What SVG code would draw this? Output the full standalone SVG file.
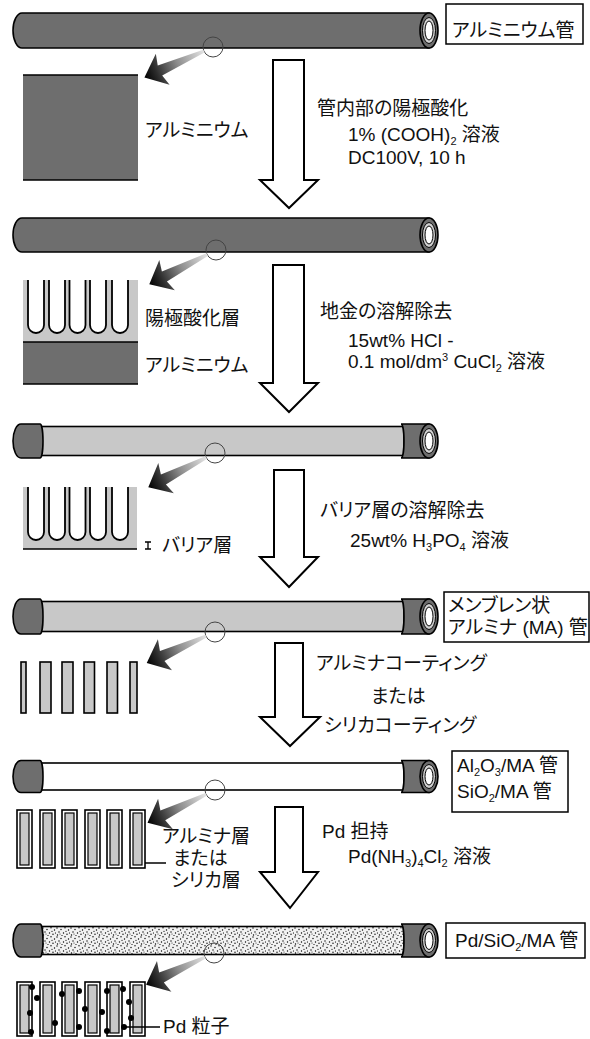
<svg xmlns="http://www.w3.org/2000/svg" width="590" height="1039" viewBox="0 0 590 1039">
  <style>
    .t { font-family: "Liberation Sans", "Noto Sans CJK JP", sans-serif; font-size: 19px; fill: #111; font-feature-settings: "palt"; }
    .s { font-size: 11px; }
    .dark { fill: #6e6e6e; stroke: #000; stroke-width: 1.6; }
    .light { fill: #c8c8c8; stroke: #000; stroke-width: 1.6; }
    .white { fill: #fff; stroke: #000; stroke-width: 1.6; }
    .box { fill: #fff; stroke: #000; stroke-width: 1.5; }
    .lens { fill: none; stroke: #444; stroke-width: 1; }
    .big { fill: #fff; stroke: #000; stroke-width: 2; stroke-linejoin: miter; }
    .pore { fill: #fff; stroke: #000; stroke-width: 1.8; }
    .line { fill: none; stroke: #000; stroke-width: 1.5; }
    .pd { fill: #000; }
  </style>
  <defs>
    <linearGradient id="gPtr" x1="0" y1="0" x2="1" y2="0">
      <stop offset="0" stop-color="#e4e4e4"/>
      <stop offset="0.45" stop-color="#8c8c8c"/>
      <stop offset="0.8" stop-color="#2c2c2c"/>
      <stop offset="1" stop-color="#000"/>
    </linearGradient>
    <!-- tapered pointer from the lens edge (x=10) to its tip (x=75) -->
    <path id="ptr" d="M10,-1.5 L58,-5.5 L55,-17 L75,0 L55,17 L58,5.5 L10,1.5 Z" fill="url(#gPtr)"/>
    <pattern id="stipple" width="14" height="9" patternUnits="userSpaceOnUse">
      <rect width="14" height="9" fill="#f2f2f2"/>
      <circle cx="1" cy="1" r="0.7"/><circle cx="5" cy="2.5" r="0.7"/><circle cx="9" cy="0.8" r="0.7"/>
      <circle cx="12.5" cy="3" r="0.7"/><circle cx="3" cy="5" r="0.7"/><circle cx="7.5" cy="6" r="0.7"/>
      <circle cx="11" cy="7.2" r="0.7"/><circle cx="1.5" cy="8" r="0.7"/><circle cx="6" cy="8.6" r="0.6"/>
      <circle cx="10" cy="4.3" r="0.6"/><circle cx="13.5" cy="6" r="0.6"/><circle cx="4" cy="7" r="0.5"/>
    </pattern>
  </defs>

  <!-- ===== stage 1: aluminium tube ===== -->
  <g id="tube1">
    <path class="dark" d="M22,13 H429 V48 H22 A9,17.5 0 0 1 22,13 Z"/>
    <ellipse class="dark" cx="429" cy="30.5" rx="9" ry="17.5"/>
    <ellipse cx="429" cy="30.5" rx="6.5" ry="13" fill="#d0d0d0" stroke="#000" stroke-width="1"/>
    <ellipse cx="429" cy="30.5" rx="4" ry="9.5" fill="#fff" stroke="#000" stroke-width="1"/>
    <circle class="lens" cx="213" cy="47" r="10"/>
  </g>
  <g id="label1">
    <rect class="box" x="446" y="4" width="137" height="40"/>
    <text class="t" x="452" y="37">アルミニウム管</text>
  </g>
  <g id="section1">
    <rect x="23" y="75" width="115" height="105" fill="#6e6e6e"/>
    <path class="line" d="M23,75 H138 M23,180 H138"/>
    <text class="t" x="145" y="137">アルミニウム</text>
  </g>
  <g id="step1">
    <polygon class="big" points="273,60 304,60 304,180 318,180 289,208 260,180 273,180"/>
    <text class="t" x="317" y="115">管内部の陽極酸化</text>
    <text class="t" x="348" y="141">1% (COOH)<tspan class="s" dy="3.5">2</tspan><tspan dy="-3.5"> 溶液</tspan></text>
    <text class="t" x="348" y="164">DC100V, 10 h</text>
  </g>

  <!-- ===== stage 2: anodised tube ===== -->
  <g id="tube2">
    <path class="dark" d="M22,218 H429 V252 H22 A9,17 0 0 1 22,218 Z"/>
    <ellipse class="dark" cx="429" cy="235" rx="9" ry="17"/>
    <ellipse cx="429" cy="235" rx="6.5" ry="12.5" fill="#d0d0d0" stroke="#000" stroke-width="1"/>
    <ellipse cx="429" cy="235" rx="4" ry="9" fill="#fff" stroke="#000" stroke-width="1"/>
    <circle class="lens" cx="216" cy="250" r="10"/>
  </g>
  <g id="section2">
    <rect x="23" y="280" width="115" height="62" fill="#c8c8c8"/>
    <rect x="23" y="342" width="115" height="42" fill="#6e6e6e"/>
    <path class="line" d="M23,342 H138 M23,384 H138"/>
    <path class="pore" d="M28,280 V325 A8,8 0 0 0 44,325 V280"/>
    <path class="pore" d="M49,280 V325 A8,8 0 0 0 65,325 V280"/>
    <path class="pore" d="M69.5,280 V325 A8,8 0 0 0 85.5,325 V280"/>
    <path class="pore" d="M90,280 V325 A8,8 0 0 0 106,325 V280"/>
    <path class="pore" d="M112,280 V325 A8,8 0 0 0 128,325 V280"/>
    <text class="t" x="145" y="325">陽極酸化層</text>
    <text class="t" x="145" y="372">アルミニウム</text>
  </g>
  <g id="step2">
    <polygon class="big" points="273,265 304,265 304,383 318,383 289,412 260,383 273,383"/>
    <text class="t" x="320" y="318">地金の溶解除去</text>
    <text class="t" x="348" y="347">15wt% HCl -</text>
    <text class="t" x="348" y="368">0.1 mol/dm<tspan class="s" dy="-7">3</tspan><tspan dy="7"> CuCl</tspan><tspan class="s" dy="4">2</tspan><tspan dy="-4"> 溶液</tspan></text>
  </g>

  <!-- ===== stage 3: tube with the metal removed ===== -->
  <g id="tube3">
    <rect class="light" x="38" y="426.5" width="366" height="29"/>
    <path class="dark" d="M40,424 H21 A8,17 0 0 0 21,458 H40 A3,17 0 0 0 40,424 Z"/>
    <path class="dark" d="M429,424 H401 A3,17 0 0 1 401,458 H429 Z"/>
    <ellipse class="dark" cx="429" cy="441" rx="9" ry="17"/>
    <ellipse cx="429" cy="441" rx="6.5" ry="12.5" fill="#d0d0d0" stroke="#000" stroke-width="1"/>
    <ellipse cx="429" cy="441" rx="4" ry="9" fill="#fff" stroke="#000" stroke-width="1"/>
    <circle class="lens" cx="215" cy="453" r="10"/>
  </g>
  <g id="section3">
    <rect x="23" y="487" width="114" height="62" fill="#c8c8c8"/>
    <path class="line" d="M23,549 H137"/>
    <path class="pore" d="M28,487 V532 A8,8 0 0 0 44,532 V487"/>
    <path class="pore" d="M49,487 V532 A8,8 0 0 0 65,532 V487"/>
    <path class="pore" d="M69.5,487 V532 A8,8 0 0 0 85.5,532 V487"/>
    <path class="pore" d="M90,487 V532 A8,8 0 0 0 106,532 V487"/>
    <path class="pore" d="M112,487 V532 A8,8 0 0 0 128,532 V487"/>
    <path d="M145,542 H151 M148,542 V549 M145,549 H151" fill="none" stroke="#000" stroke-width="1.3"/>
    <text class="t" x="162" y="552">バリア層</text>
  </g>
  <g id="step3">
    <polygon class="big" points="274,470 304,470 304,557 318,557 289,587 260,557 274,557"/>
    <text class="t" x="320" y="517">バリア層の溶解除去</text>
    <text class="t" x="350" y="547">25wt% H<tspan class="s" dy="4">3</tspan><tspan dy="-4">PO</tspan><tspan class="s" dy="4">4</tspan><tspan dy="-4"> 溶液</tspan></text>
  </g>

  <!-- ===== stage 4: membrane alumina tube ===== -->
  <g id="tube4">
    <rect class="light" x="38" y="601.5" width="366" height="30"/>
    <path class="dark" d="M40,599 H21 A8,17.5 0 0 0 21,634 H40 A3,17.5 0 0 0 40,599 Z"/>
    <path class="dark" d="M429,599 H401 A3,17.5 0 0 1 401,634 H429 Z"/>
    <ellipse class="dark" cx="429" cy="616.5" rx="9" ry="17.5"/>
    <ellipse cx="429" cy="616.5" rx="6.5" ry="13" fill="#d0d0d0" stroke="#000" stroke-width="1"/>
    <ellipse cx="429" cy="616.5" rx="4" ry="9.5" fill="#fff" stroke="#000" stroke-width="1"/>
    <circle class="lens" cx="215" cy="632" r="10"/>
  </g>
  <g id="label4">
    <rect class="box" x="444" y="592" width="145" height="50"/>
    <text class="t" x="448" y="612">メンブレン状</text>
    <text class="t" x="448" y="634">アルミナ (MA) 管</text>
  </g>
  <g id="section4">
    <rect class="light" x="21" y="662" width="5" height="51"/>
    <rect class="light" x="40" y="662" width="11" height="51"/>
    <rect class="light" x="62" y="662" width="11" height="51"/>
    <rect class="light" x="84" y="662" width="10.5" height="51"/>
    <rect class="light" x="107" y="662" width="10.5" height="51"/>
    <rect class="light" x="130" y="662" width="7" height="51"/>
  </g>
  <g id="step4">
    <polygon class="big" points="275,643 303,643 303,717 320,717 290,746 260,717 275,717"/>
    <text class="t" x="316" y="670">アルミナコーティング</text>
    <text class="t" x="371" y="703">または</text>
    <text class="t" x="324" y="732">シリカコーティング</text>
  </g>

  <!-- ===== stage 5: coated tube ===== -->
  <g id="tube5">
    <rect class="white" x="38" y="763" width="366" height="27"/>
    <path class="dark" d="M40,760.5 H21 A8,16 0 0 0 21,792.5 H40 A3,16 0 0 0 40,760.5 Z"/>
    <path class="dark" d="M429,760.5 H401 A3,16 0 0 1 401,792.5 H429 Z"/>
    <ellipse class="dark" cx="429" cy="776.5" rx="9" ry="16"/>
    <ellipse cx="429" cy="776.5" rx="6.5" ry="12" fill="#d0d0d0" stroke="#000" stroke-width="1"/>
    <ellipse cx="429" cy="776.5" rx="4" ry="8.5" fill="#fff" stroke="#000" stroke-width="1"/>
    <circle class="lens" cx="215" cy="790" r="10"/>
  </g>
  <g id="label5">
    <rect class="box" x="452" y="751" width="116" height="61"/>
    <text class="t" x="457" y="772">Al<tspan class="s" dy="4">2</tspan><tspan dy="-4">O</tspan><tspan class="s" dy="4">3</tspan><tspan dy="-4">/MA 管</tspan></text>
    <text class="t" x="457" y="798">SiO<tspan class="s" dy="4">2</tspan><tspan dy="-4">/MA 管</tspan></text>
  </g>
  <g id="section5">
    <g class="white">
      <rect x="17" y="810" width="15" height="58"/>
      <rect x="40" y="810" width="15" height="58"/>
      <rect x="62" y="810" width="15" height="58"/>
      <rect x="85" y="810" width="15" height="58"/>
      <rect x="107" y="810" width="15" height="58"/>
      <rect x="130" y="810" width="15" height="58"/>
    </g>
    <g fill="#c8c8c8" stroke="#000" stroke-width="1.2">
      <rect x="20" y="813" width="9" height="52"/>
      <rect x="43" y="813" width="9" height="52"/>
      <rect x="65" y="813" width="9" height="52"/>
      <rect x="88" y="813" width="9" height="52"/>
      <rect x="110" y="813" width="9" height="52"/>
      <rect x="133" y="813" width="9" height="52"/>
    </g>
    <path class="line" d="M145,863 H166"/>
    <text class="t" x="162" y="843">アルミナ層</text>
    <text class="t" x="173" y="865">または</text>
    <text class="t" x="171" y="887">シリカ層</text>
  </g>
  <g id="step5">
    <polygon class="big" points="275,807 303,807 303,872 318,872 290,908 260,872 275,872"/>
    <text class="t" x="322" y="838">Pd 担持</text>
    <text class="t" x="348" y="863">Pd(NH<tspan class="s" dy="4">3</tspan><tspan dy="-4">)</tspan><tspan class="s" dy="4">4</tspan><tspan dy="-4">Cl</tspan><tspan class="s" dy="4">2</tspan><tspan dy="-4"> 溶液</tspan></text>
  </g>

  <!-- ===== stage 6: Pd loaded tube ===== -->
  <g id="tube6">
    <rect x="38" y="926.5" width="366" height="28" fill="url(#stipple)" stroke="#000" stroke-width="1.6"/>
    <path class="dark" d="M40,924 H21 A8,16.5 0 0 0 21,957 H40 A3,16.5 0 0 0 40,924 Z"/>
    <path class="dark" d="M429,924 H401 A3,16.5 0 0 1 401,957 H429 Z"/>
    <ellipse class="dark" cx="429" cy="940.5" rx="9" ry="16.5"/>
    <ellipse cx="429" cy="940.5" rx="6.5" ry="12" fill="#d0d0d0" stroke="#000" stroke-width="1"/>
    <ellipse cx="429" cy="940.5" rx="4" ry="9" fill="#fff" stroke="#000" stroke-width="1"/>
    <circle class="lens" cx="214" cy="953" r="10"/>
  </g>
  <g id="label6">
    <rect class="box" x="446" y="923" width="139" height="35"/>
    <text class="t" x="455" y="947">Pd/SiO<tspan class="s" dy="4">2</tspan><tspan dy="-4">/MA 管</tspan></text>
  </g>
  <g id="section6">
    <g class="white">
      <rect x="17" y="982" width="15" height="54"/>
      <rect x="40" y="982" width="15" height="54"/>
      <rect x="62" y="982" width="15" height="54"/>
      <rect x="85" y="982" width="15" height="54"/>
      <rect x="107" y="982" width="15" height="54"/>
      <rect x="130" y="982" width="15" height="54"/>
    </g>
    <g fill="#c8c8c8" stroke="#000" stroke-width="1.2">
      <rect x="20" y="985" width="9" height="48"/>
      <rect x="43" y="985" width="9" height="48"/>
      <rect x="65" y="985" width="9" height="48"/>
      <rect x="88" y="985" width="9" height="48"/>
      <rect x="110" y="985" width="9" height="48"/>
      <rect x="133" y="985" width="9" height="48"/>
    </g>
    <g class="pd">
      <circle cx="32" cy="987" r="3"/><circle cx="37" cy="998" r="3"/><circle cx="30" cy="1013" r="3"/>
      <circle cx="31" cy="1032" r="3"/><circle cx="55" cy="1023" r="3"/><circle cx="62" cy="994" r="3"/>
      <circle cx="79" cy="991" r="3"/><circle cx="79" cy="1027" r="3"/><circle cx="85" cy="1009" r="3"/>
      <circle cx="102" cy="1012" r="3"/><circle cx="107" cy="991" r="3"/><circle cx="107" cy="1031" r="3"/>
      <circle cx="123" cy="989" r="3"/><circle cx="129" cy="1002" r="3"/><circle cx="131" cy="1018" r="3"/>
      <circle cx="124" cy="1027" r="3"/>
    </g>
    <path class="line" d="M124,1027 H160"/>
    <text class="t" x="163" y="1033">Pd 粒子</text>
  </g>

  <!-- magnifier pointers from each lens to its cross-section -->
  <g id="pointers">
    <use href="#ptr" transform="translate(213,47) rotate(156.1)"/>
    <use href="#ptr" transform="translate(216,250) rotate(152.8)"/>
    <use href="#ptr" transform="translate(215,453) rotate(152.8)"/>
    <use href="#ptr" transform="translate(215,632) rotate(155.5)"/>
    <use href="#ptr" transform="translate(215,790) rotate(154.1)"/>
    <use href="#ptr" transform="translate(214,953) rotate(154.9)"/>
  </g>
</svg>
